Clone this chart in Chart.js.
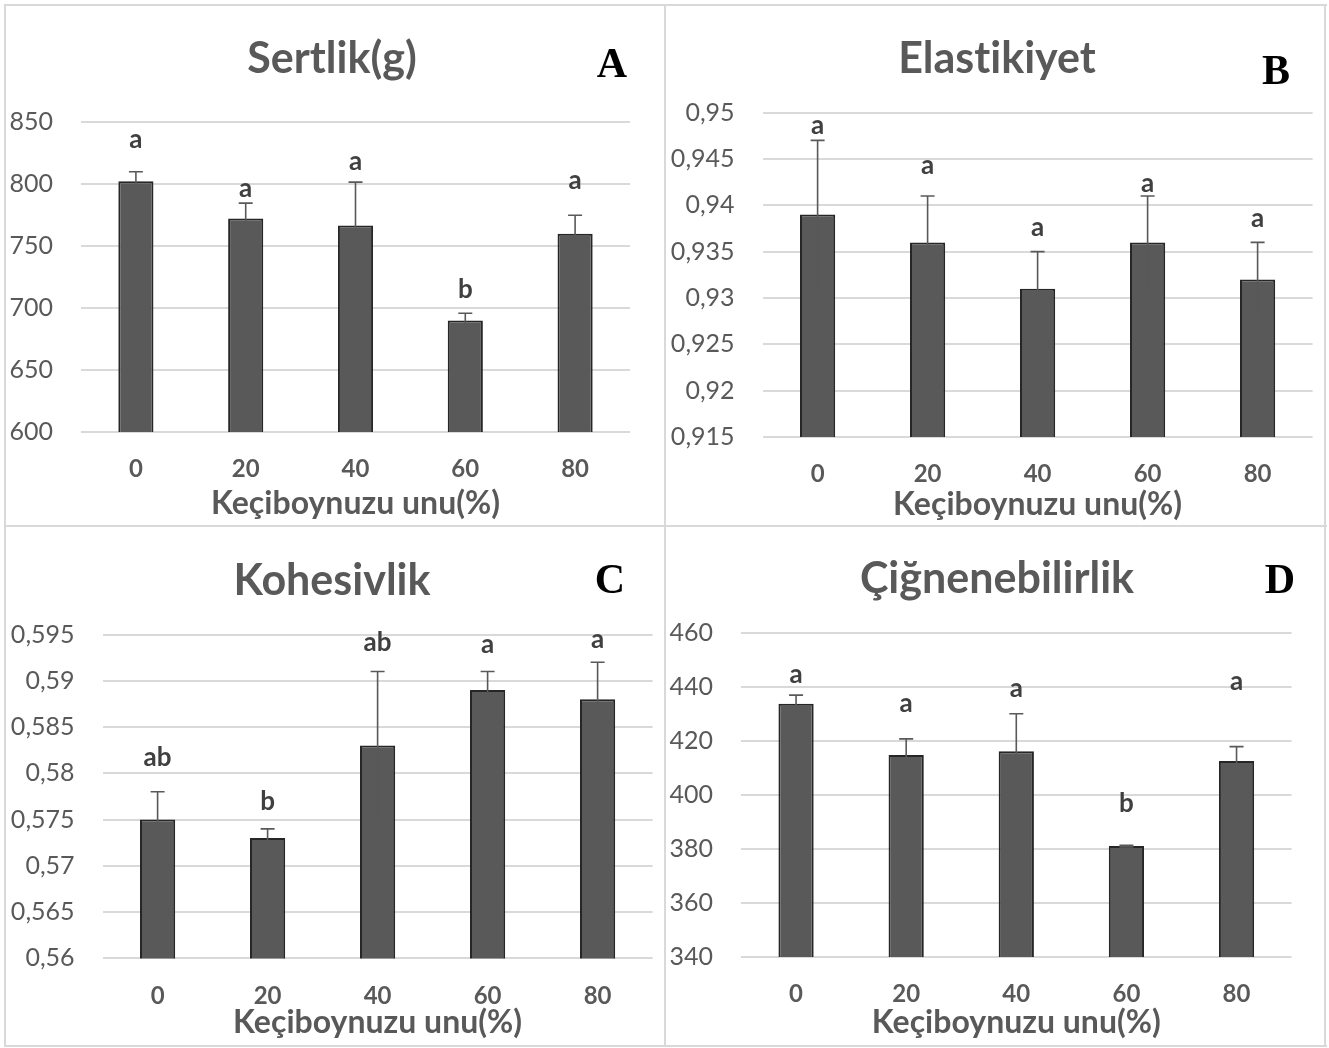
<!DOCTYPE html>
<html>
<head>
<meta charset="utf-8">
<script src="https://cdn.jsdelivr.net/npm/chart.js@4.4.1/dist/chart.umd.min.js"></script>
<style>
  html, body { margin: 0; padding: 0; background: #fff; }
  #wrap { position: relative; width: 1329px; height: 1048px; overflow: hidden; background: #fff; }
  canvas { position: absolute; }
  .ln { position: absolute; background: #d9d9d9; z-index: 5; }
</style>
</head>
<body>
<div id="wrap">
  <canvas id="cA" width="664" height="525" style="left:0;top:0"></canvas>
  <canvas id="cB" width="664" height="525" style="left:665px;top:0"></canvas>
  <canvas id="cC" width="664" height="522" style="left:0;top:526px"></canvas>
  <canvas id="cD" width="664" height="522" style="left:665px;top:526px"></canvas>
  <div class="ln" style="left:4px;top:4px;width:1323px;height:2px"></div>
  <div class="ln" style="left:4px;top:525px;width:1323px;height:2px"></div>
  <div class="ln" style="left:4px;top:1045px;width:1323px;height:2px"></div>
  <div class="ln" style="left:4px;top:4px;width:2px;height:1043px"></div>
  <div class="ln" style="left:664px;top:4px;width:2px;height:1043px"></div>
  <div class="ln" style="left:1324px;top:4px;width:2px;height:1043px"></div>
</div>
<script>
// ---------- DATA ----------
const categories = ['0', '20', '40', '60', '80'];
const xAxisLabel = 'Keçiboynuzu unu(%)';

const sertlikValues = [802.5, 772.3, 766.8, 690.1, 760.0];
const sertlikErrors = [7.7, 12.5, 35.0, 5.8, 15.0];
const sertlikLetters = ['a', 'a', 'a', 'b', 'a'];
const sertlikLetterAt = [835.9, 796.3, 818.1, 714.7, 802.7];
const sertlikTicks = [600, 650, 700, 750, 800, 850];

const elastikiyetValues = [0.939, 0.936, 0.931, 0.936, 0.932];
const elastikiyetErrors = [0.008, 0.005, 0.004, 0.005, 0.004];
const elastikiyetLetters = ['a', 'a', 'a', 'a', 'a'];
const elastikiyetLetterAt = [0.9486, 0.9443, 0.9376, 0.9423, 0.9386];
const elastikiyetTicks = [0.915, 0.92, 0.925, 0.93, 0.935, 0.94, 0.945, 0.95];

const kohesivlikValues = [0.575, 0.573, 0.583, 0.589, 0.588];
const kohesivlikErrors = [0.003, 0.001, 0.008, 0.002, 0.004];
const kohesivlikLetters = ['ab', 'b', 'ab', 'a', 'a'];
const kohesivlikLetterAt = [0.5817, 0.5769, 0.5941, 0.5939, 0.5945];
const kohesivlikTicks = [0.56, 0.565, 0.57, 0.575, 0.58, 0.585, 0.59, 0.595];

const cignenebilirlikValues = [433.8, 414.8, 416.2, 381.1, 412.6];
const cignenebilirlikErrors = [3.2, 6.0, 13.9, 0.3, 5.3];
const cignenebilirlikLetters = ['a', 'a', 'a', 'b', 'a'];
const cignenebilirlikLetterAt = [444.5, 433.9, 439.5, 396.7, 442.0];
const cignenebilirlikTicks = [340, 360, 380, 400, 420, 440, 460];

// ---------- STYLE / LAYOUT ----------
const SANS = 'Lato, "Open Sans", sans-serif';
const TEXT = '#595959';
const BAR_FILL = '#595959';
const BAR_EDGE = '#262626';
const ERR = '#595959';
const GRID = '#d9d9d9';

const fmt = v => {
  const r = Math.round(v * 10000) / 10000;
  return String(r).replace('.', ',');
};

const noLigaturePlugin = {
  id: 'noLig',
  beforeDraw(chart) {
    if ('letterSpacing' in chart.ctx) chart.ctx.letterSpacing = '0.01px';
  }
};

const errorBarPlugin = {
  id: 'errBars',
  afterDatasetsDraw(chart, args, opts) {
    const ctx = chart.ctx;
    const meta = chart.getDatasetMeta(0);
    const ys = chart.scales.y;
    const vals = chart.data.datasets[0].data;
    ctx.save();
    ctx.strokeStyle = ERR;
    ctx.lineWidth = 1.6;
    meta.data.forEach((bar, i) => {
      const e = opts.errors[i];
      const hi = ys.getPixelForValue(vals[i] + e);
      const lo = ys.getPixelForValue(vals[i] - e);
      const x = bar.x;
      ctx.beginPath();
      ctx.moveTo(x, hi); ctx.lineTo(x, lo);
      ctx.moveTo(x - 7, hi); ctx.lineTo(x + 7, hi);
      ctx.moveTo(x - 7, lo); ctx.lineTo(x + 7, lo);
      ctx.stroke();
    });
    // group letters
    ctx.fillStyle = '#404040';
    ctx.font = 'bold 26px ' + SANS;
    ctx.textAlign = 'center';
    ctx.textBaseline = 'middle';
    meta.data.forEach((bar, i) => {
      ctx.fillText(opts.letters[i], bar.x, ys.getPixelForValue(opts.letterAt[i]));
    });
    // panel tag
    ctx.fillStyle = '#000';
    ctx.font = 'bold 42px "Liberation Serif", "Times New Roman", serif';
    ctx.fillText(opts.tag, opts.tagX, opts.tagY);
    ctx.restore();
  }
};

function makePanel(id, cfg) {
  const canvas = document.getElementById(id);
  const W = canvas.width, H = canvas.height;
  const tSize = 43, axSize = 32;
  const tPadTop = cfg.titleY - 0.6 * tSize;
  const tPadBottom = cfg.plotTop - tPadTop - 1.2 * tSize;
  const axPadBottom = H - cfg.axisTitleY - 0.6 * axSize;
  const ticks = cfg.ticks;
  new Chart(canvas, {
    type: 'bar',
    data: {
      labels: categories,
      datasets: [{
        data: cfg.values,
        backgroundColor: BAR_FILL,
        borderColor: BAR_EDGE,
        borderWidth: 2,
        borderSkipped: false,
        barPercentage: 0.32,
        categoryPercentage: 1.0
      }]
    },
    options: {
      responsive: false,
      animation: false,
      devicePixelRatio: 1,
      layout: { padding: 0 },
      plugins: {
        legend: { display: false },
        tooltip: { enabled: false },
        title: {
          display: true,
          text: cfg.title,
          color: TEXT,
          font: { family: SANS, size: tSize, weight: 'bold' },
          padding: { top: tPadTop, bottom: tPadBottom }
        },
        errBars: {
          errors: cfg.errors, letters: cfg.letters, letterAt: cfg.letterAt,
          tag: cfg.tag, tagX: cfg.tagX, tagY: cfg.tagY
        }
      },
      scales: {
        x: {
          grid: { display: false },
          border: { display: false },
          ticks: {
            color: TEXT,
            font: { family: SANS, size: 24, weight: 'bold' },
            padding: cfg.tickLabelY - cfg.plotBottom - 14.4 - 7
          },
          title: {
            display: true,
            text: xAxisLabel,
            color: TEXT,
            font: { family: SANS, size: axSize, weight: 'bold' },
            padding: { top: 0, bottom: axPadBottom }
          },
          afterFit(scale) { scale.height = H - cfg.plotBottom; }
        },
        y: {
          min: ticks[0],
          max: ticks[ticks.length - 1],
          afterBuildTicks(scale) { scale.ticks = ticks.map(v => ({ value: v })); },
          grid: { color: GRID, lineWidth: 2, drawTicks: false },
          border: { display: false },
          ticks: {
            color: TEXT,
            font: { family: SANS, size: 25 },
            padding: 28,
            callback: v => fmt(v)
          },
          afterFit(scale) { scale.width = cfg.plotLeft; }
        },
        yRight: {
          position: 'right',
          display: true,
          grid: { display: false, drawTicks: false },
          border: { display: false },
          ticks: { display: false },
          afterFit(scale) { scale.width = W - cfg.plotRight; }
        }
      }
    },
    plugins: [noLigaturePlugin, errorBarPlugin]
  });
}

makePanel('cA', {
  title: 'Sertlik(g)', values: sertlikValues, errors: sertlikErrors,
  letters: sertlikLetters, letterAt: sertlikLetterAt, ticks: sertlikTicks,
  plotLeft: 81, plotRight: 630, plotTop: 122.4, plotBottom: 432,
  titleY: 59, axisTitleY: 504, tickLabelY: 468,
  tag: 'A', tagX: 612, tagY: 66
});
makePanel('cB', {
  title: 'Elastikiyet', values: elastikiyetValues, errors: elastikiyetErrors,
  letters: elastikiyetLetters, letterAt: elastikiyetLetterAt, ticks: elastikiyetTicks,
  plotLeft: 97.6, plotRight: 647.6, plotTop: 112.6, plotBottom: 437.1,
  titleY: 59, axisTitleY: 505, tickLabelY: 473,
  tag: 'B', tagX: 611, tagY: 73
});
makePanel('cC', {
  title: 'Kohesivlik', values: kohesivlikValues, errors: kohesivlikErrors,
  letters: kohesivlikLetters, letterAt: kohesivlikLetterAt, ticks: kohesivlikTicks,
  plotLeft: 102.6, plotRight: 652.6, plotTop: 108.5, plotBottom: 432.4,
  titleY: 55, axisTitleY: 497, tickLabelY: 469,
  tag: 'C', tagX: 610, tagY: 56
});
makePanel('cD', {
  title: 'Çiğnenebilirlik', values: cignenebilirlikValues, errors: cignenebilirlikErrors,
  letters: cignenebilirlikLetters, letterAt: cignenebilirlikLetterAt, ticks: cignenebilirlikTicks,
  plotLeft: 76, plotRight: 626.6, plotTop: 107, plotBottom: 431,
  titleY: 53, axisTitleY: 497, tickLabelY: 467,
  tag: 'D', tagX: 615, tagY: 56
});
</script>
</body>
</html>
